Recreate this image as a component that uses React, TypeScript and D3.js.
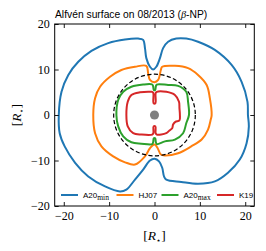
import React, { useEffect, useRef } from "react";
import * as d3 from "d3";

type P = [number, number];

const xTicks = [-20, -10, 0, 10, 20];
const yTicks = [-20, -10, 0, 10, 20];

const seriesNames = ["A20", "HJ07", "A20", "K19"];
const seriesSubs = ["min", "", "max", ""];
const seriesColors = ["#1f77b4", "#ff7f0e", "#2ca02c", "#d62728"];

const a20min: P[] = [
  [20.6, 0], [20.5, 2.9], [19.2, 7.3], [17.0, 11.0], [13.3, 14.3], [9.6, 16.1], [7.0, 16.8],
  [4.8, 16.8], [3.0, 16.1], [1.9, 14.7], [1.2, 12.5], [0.4, 10.6], [-0.3, 10.0], [-1.0, 10.6],
  [-1.8, 12.5], [-2.1, 14.7], [-2.5, 16.5], [-3.6, 16.8], [-6.5, 16.6], [-10.2, 15.8],
  [-13.9, 14.1], [-16.8, 11.7], [-19.0, 8.8], [-20.5, 5.1], [-21.1, 0], [-20.9, -4.0],
  [-19.8, -6.9], [-17.5, -10.5], [-14.6, -13.5], [-10.9, -15.7], [-7.6, -16.8], [-6.2, -16.4],
  [-4.3, -14.2], [-2.5, -12.0], [-1.0, -10.0], [0, -9.6], [1.0, -10.2], [1.7, -11.6],
  [2.1, -13.5], [2.6, -14.2], [5.9, -14.7], [9.6, -15.1], [13.3, -14.6], [16.2, -12.7],
  [18.8, -9.8], [20.3, -6.2], [20.8, -2.5],
];

const hj07: P[] = [
  [12.6, 0], [12.2, 3.7], [11.5, 6.6], [9.6, 8.8], [7.4, 10.3], [4.5, 10.8], [1.7, 10.6],
  [1.4, 9.9], [0.8, 7.7], [0, 7.2], [-1.0, 7.7], [-1.4, 9.2], [-1.8, 10.8], [-4.3, 10.6],
  [-7.3, 9.9], [-9.8, 8.4], [-12.0, 6.2], [-13.1, 3.7], [-13.5, 0], [-13.1, -4.0],
  [-11.7, -6.9], [-9.1, -9.1], [-6.5, -10.4], [-4.3, -10.9], [-2.1, -9.1], [-1.0, -7.3],
  [0, -6.5], [0.7, -7.3], [1.4, -8.7], [2.3, -8.9], [5.2, -8.4], [8.1, -6.9], [10.4, -5.4],
  [11.8, -3.2], [12.4, -1.0],
];

const a20max: P[] = [
  [7.6, 0], [7.4, 2.9], [7.0, 5.1], [5.2, 6.4], [3.0, 6.6], [0.5, 6.7], [0.3, 6.3],
  [0.15, 5.5], [-0.15, 5.5], [-0.3, 6.3], [-0.5, 6.7], [-2.5, 6.7], [-5.1, 6.2], [-6.9, 5.1],
  [-8.0, 3.3], [-8.4, 0], [-8.0, -2.5], [-6.9, -4.7], [-5.1, -6.0], [-2.9, -6.3], [-0.5, -6.4],
  [-0.3, -6.0], [-0.15, -5.1], [0.15, -5.1], [0.3, -6.0], [0.5, -6.4], [2.3, -5.8], [4.5, -5.4],
  [6.3, -4.0], [7.0, -1.8],
];

const k19: P[] = [
  [5.6, 0], [5.5, 1.5], [5.4, 2.9], [4.5, 4.4], [2.6, 5.1], [0.5, 5.1], [0.25, 4.8],
  [0.2, 2.6], [-0.2, 2.6], [-0.25, 4.8], [-0.5, 5.1], [-1.0, 5.1], [-3.2, 5.0], [-5.1, 4.4],
  [-5.9, 2.9], [-6.2, 0], [-5.9, -2.5], [-4.7, -4.0], [-2.9, -4.3], [-0.5, -4.3], [-0.25, -4.0],
  [-0.2, -2.5], [0.2, -2.5], [0.25, -4.0], [0.5, -4.3], [2.6, -4.0], [3.3, -3.4], [3.9, -2.9],
  [4.1, -2.1], [4.6, -1.5], [5.5, -1.2],
];

const curves = [a20min, hj07, a20max, k19];
const dashedRadius = 9;
const starRadius = 1;

const W = 266;
const H = 251;
const L = 54.7, R = 254.3, T = 24, B = 206;

export default function App() {
  const ref = useRef<SVGSVGElement>(null);
  useEffect(() => {
    const svg = d3.select(ref.current);
    svg.selectAll("*").remove();
    const x = d3.scaleLinear().domain([-22, 22]).range([L, R]);
    const y = d3.scaleLinear().domain([-20, 20]).range([B, T]);
    const k = (x(1) - x(0));

    const g = svg.append("g");
    const line = d3
      .line<P>()
      .x((d) => x(d[0]))
      .y((d) => y(d[1]))
      .curve(d3.curveCatmullRomClosed.alpha(0.5));

    curves.forEach((c, i) => {
      g.append("path")
        .attr("d", line(c) as string)
        .attr("fill", "none")
        .attr("stroke", seriesColors[i])
        .attr("stroke-width", 2)
        .attr("stroke-linejoin", "round");
    });

    g.append("circle")
      .attr("cx", x(0)).attr("cy", y(0)).attr("r", dashedRadius * k)
      .attr("fill", "none").attr("stroke", "#000").attr("stroke-width", 1.2)
      .attr("stroke-dasharray", "4.2,2.4");

    g.append("circle")
      .attr("cx", x(0)).attr("cy", y(0)).attr("r", starRadius * k)
      .attr("fill", "#808080");

    // axes
    const fontTick = "'Liberation Serif', serif";
    const ax = (sel: any) => {
      sel.select(".domain").remove();
      sel.selectAll(".tick line").attr("stroke", "#000").attr("stroke-width", 0.9);
      sel.selectAll(".tick text").attr("font-family", fontTick).attr("font-size", 12).attr("fill", "#000");
    };
    svg.append("g").attr("transform", `translate(0,${B})`)
      .call(d3.axisBottom(x).tickValues(xTicks).tickSize(-4).tickPadding(5.5)).call(ax);
    svg.append("g").attr("transform", `translate(0,${T})`)
      .call(d3.axisTop(x).tickValues(xTicks).tickSize(-4).tickFormat(() => "")).call(ax);
    svg.append("g").attr("transform", `translate(${L},0)`)
      .call(d3.axisLeft(y).tickValues(yTicks).tickSize(-4).tickPadding(5)).call(ax);
    svg.append("g").attr("transform", `translate(${R},0)`)
      .call(d3.axisRight(y).tickValues(yTicks).tickSize(-4).tickFormat(() => "")).call(ax);

    svg.append("rect")
      .attr("x", L).attr("y", T).attr("width", R - L).attr("height", B - T)
      .attr("fill", "none").attr("stroke", "#000").attr("stroke-width", 1);

    // legend
    const legX = [61, 116.5, 161.5, 217];
    const legY = 195;
    seriesNames.forEach((name, i) => {
      const lx = legX[i];
      svg.append("line")
        .attr("x1", lx).attr("x2", lx + 17).attr("y1", legY).attr("y2", legY)
        .attr("stroke", seriesColors[i]).attr("stroke-width", 2);
      const t = svg.append("text")
        .attr("x", lx + 22).attr("y", legY + 3)
        .attr("font-family", "'Liberation Sans', Arial, sans-serif")
        .attr("font-size", 8).attr("fill", "#000");
      t.append("tspan").text(name);
      if (seriesSubs[i]) {
        t.append("tspan").attr("dy", 2).attr("font-family", "'Liberation Serif', serif")
          .attr("font-size", 7.5).text(seriesSubs[i]);
      }
    });

    // title
    const title = svg.append("text")
      .attr("x", 55).attr("y", 17.5)
      .attr("font-family", "'Liberation Sans', Arial, sans-serif")
      .attr("font-size", 10.3).attr("fill", "#000");
    title.append("tspan").text("Alfvén surface on 08/2013 (");
    title.append("tspan").attr("font-family", "'Liberation Serif', serif").attr("font-style", "italic").text("β");
    title.append("tspan").text("-NP)");

    // axis labels
    const addLabel = (sel: any) => {
      sel.append("tspan").text("[");
      sel.append("tspan").attr("font-style", "italic").text("R");
      sel.append("tspan").attr("dy", 2.5).attr("font-size", 8).attr("font-family", "'DejaVu Sans', sans-serif").text("⋆");
      sel.append("tspan").attr("dy", -2.5).text("]");
    };
    const xl = svg.append("text")
      .attr("x", x(0)).attr("y", 240)
      .attr("text-anchor", "middle")
      .attr("font-family", fontTick).attr("font-size", 13.5).attr("fill", "#000");
    addLabel(xl);
    const yl = svg.append("text")
      .attr("transform", `translate(21,${y(0)}) rotate(-90)`)
      .attr("text-anchor", "middle")
      .attr("font-family", fontTick).attr("font-size", 13.5).attr("fill", "#000");
    addLabel(yl);
  }, []);

  return (
    <svg ref={ref} width={W} height={H} style={{ position: "absolute", left: 0, top: 0, background: "#fff" }} />
  );
}
